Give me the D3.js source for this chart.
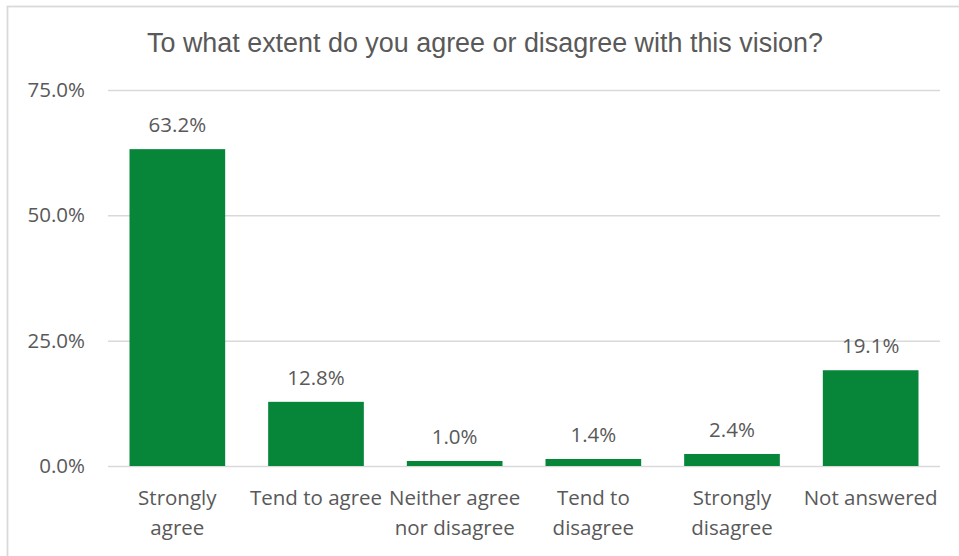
<!DOCTYPE html>
<html>
<head>
<meta charset="utf-8">
<script src="https://cdn.jsdelivr.net/npm/d3@7"></script>
<style>
  body { margin: 0; background: #fff; }
  svg { display: block; }
</style>
</head>
<body>
<svg id="chart" width="959" height="556"></svg>
<script>
const categories = [["Strongly", "agree"], ["Tend to agree"], ["Neither agree", "nor disagree"], ["Tend to", "disagree"], ["Strongly", "disagree"], ["Not answered"]];
const values = [63.2, 12.8, 1.0, 1.4, 2.4, 19.1];
const yTicks = [0, 25, 50, 75];
const title = "To what extent do you agree or disagree with this vision?";

const svg = d3.select("#chart");
const W = 959, H = 556;
const margin = { left: 108, right: 19, top: 90, bottom: 90 };
const textColor = "#595959";
const bodyFont = "'Open Sans', Lato, sans-serif";

svg.append("rect").attr("x", 7.5).attr("y", 6.5).attr("width", 1000).attr("height", 600)
  .attr("fill", "#fff").attr("stroke", "#d9d9d9").attr("stroke-width", 1.8);

svg.append("text").attr("x", 485).attr("y", 52).attr("text-anchor", "middle")
  .attr("font-family", "'Liberation Sans', Arial, sans-serif").attr("font-size", 27)
  .attr("textLength", 676).attr("lengthAdjust", "spacingAndGlyphs")
  .attr("fill", textColor).text(title);

const labels = categories.map(c => c.join(" "));
const x = d3.scaleBand().domain(labels).range([margin.left, W - margin.right]).paddingInner(0.31).paddingOuter(0.155);
const y = d3.scaleLinear().domain([0, 75]).range([466, 90]);

const gGrid = svg.append("g");
gGrid.selectAll("line").data(yTicks).join("line")
  .attr("x1", margin.left).attr("x2", W - margin.right)
  .attr("y1", d => y(d) + 0.5).attr("y2", d => y(d) + 0.5)
  .attr("stroke", "#d9d9d9").attr("stroke-width", 1.5);

const yAxis = d3.axisLeft(y).tickValues(yTicks).tickFormat(d => d.toFixed(1) + "%").tickSize(0).tickPadding(0);
const gy = svg.append("g").attr("transform", "translate(85,0)").call(yAxis);
gy.select(".domain").remove();
gy.selectAll("text").attr("font-family", bodyFont).attr("font-size", 20.5).attr("fill", textColor);

svg.append("g").selectAll("rect").data(values).join("rect")
  .attr("x", (d, i) => x(labels[i])).attr("width", x.bandwidth())
  .attr("y", d => y(d)).attr("height", d => y(0) - y(d))
  .attr("fill", "#07863a");

svg.append("g").selectAll("text").data(values).join("text")
  .attr("x", (d, i) => x(labels[i]) + x.bandwidth() / 2)
  .attr("y", d => y(d) - 17)
  .attr("text-anchor", "middle")
  .attr("font-family", bodyFont).attr("font-size", 20.5).attr("fill", textColor)
  .text(d => d.toFixed(1) + "%");

const xAxis = d3.axisBottom(x).tickSize(0).tickFormat("");
const gx = svg.append("g").attr("transform", "translate(0,466)").call(xAxis);
gx.select(".domain").remove();

const catG = svg.append("g");
categories.forEach((lines, i) => {
  const t = catG.append("text")
    .attr("x", x(labels[i]) + x.bandwidth() / 2)
    .attr("y", 505)
    .attr("text-anchor", "middle")
    .attr("font-family", bodyFont).attr("font-size", 20.5).attr("fill", textColor);
  lines.forEach((ln, j) => {
    t.append("tspan").attr("x", x(labels[i]) + x.bandwidth() / 2).attr("dy", j === 0 ? 0 : 30).text(ln);
  });
});
</script>
</body>
</html>
